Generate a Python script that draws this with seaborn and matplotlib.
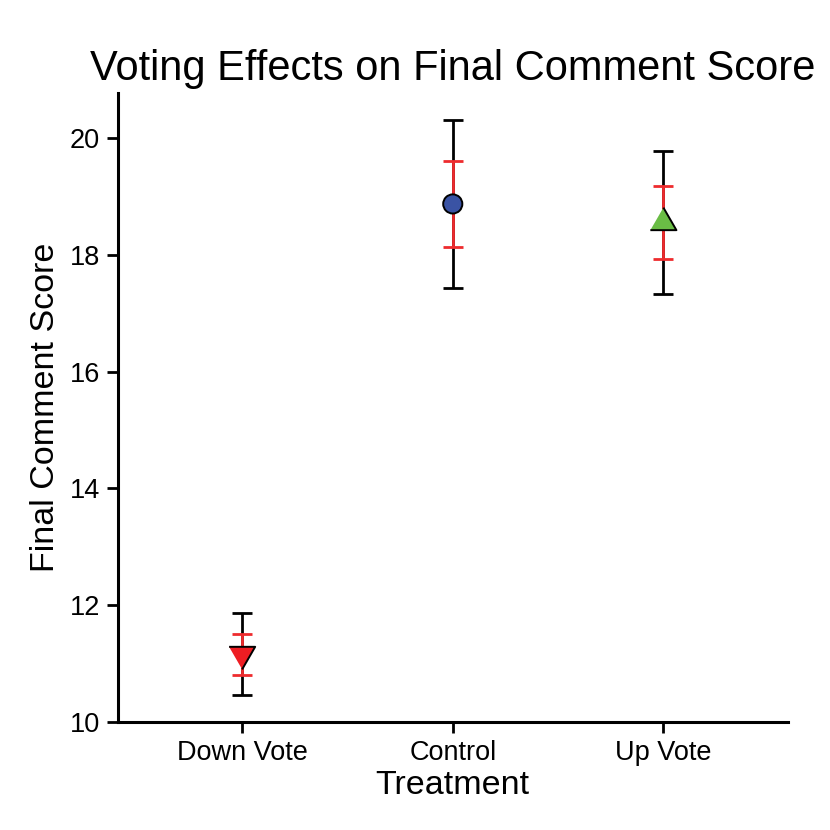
import matplotlib.pyplot as plt
import pandas as pd
import seaborn as sns

treatments = ["Down Vote", "Control", "Up Vote"]
means = [11.16, 18.87, 18.55]
ci_low = [10.46, 17.43, 17.32]
ci_high = [11.86, 20.31, 19.77]
se_low = [10.80, 18.14, 17.92]
se_high = [11.51, 19.61, 19.17]
colors = {"Down Vote": "#EE1D23", "Control": "#3A53A4", "Up Vote": "#6ABD45"}

tri_up = [(-1, -0.577), (1, -0.577), (0, 1.155)]
tri_down = [(-1, 0.577), (1, 0.577), (0, -1.155)]
markers = {"Down Vote": tri_down, "Control": "o", "Up Vote": tri_up}
sizes = {"Down Vote": 470, "Control": 190, "Up Vote": 470}

df = pd.DataFrame({"Treatment": treatments, "Score": means,
                   "ci_low": ci_low, "ci_high": ci_high,
                   "se_low": se_low, "se_high": se_high})

sns.set_style("ticks")
plt.rcParams['font.family'] = ['Liberation Sans', 'DejaVu Sans']
plt.rcParams['text.color'] = 'black'
plt.rcParams['axes.labelcolor'] = 'black'

fig = plt.figure(figsize=(8.3, 8.3), dpi=100)
ax = fig.add_axes([0.142, 0.130, 0.807, 0.758])

ax.errorbar(df["Treatment"], df["Score"],
            yerr=[df["Score"] - df["ci_low"], df["ci_high"] - df["Score"]],
            fmt="none", ecolor="black", elinewidth=2, capsize=7.5, capthick=2, zorder=1)
ax.errorbar(df["Treatment"], df["Score"],
            yerr=[df["Score"] - df["se_low"], df["se_high"] - df["Score"]],
            fmt="none", ecolor="#EE2B2E", elinewidth=2, capsize=7.5, capthick=2, zorder=2)

sns.scatterplot(data=df, x="Treatment", y="Score", hue="Treatment", style="Treatment",
                size="Treatment", palette=colors, markers=markers, sizes=sizes,
                edgecolor="black", linewidth=1.4, legend=False, zorder=3, ax=ax)

ax.set_xlim(-0.59, 2.59)
ax.set_ylim(10, 20.77)
ax.set_yticks([10, 12, 14, 16, 18, 20])
ax.set_title("Voting Effects on Final Comment Score", fontsize=30, pad=9, color="black")
ax.set_xlabel("Treatment", fontsize=24.5, labelpad=3)
ax.set_ylabel("Final Comment Score", fontsize=24.5, labelpad=6)
ax.tick_params(axis="both", labelsize=19.5, colors="black", width=2, length=8, pad=5)
for side in ["top", "right"]:
    ax.spines[side].set_visible(False)
for side in ["left", "bottom"]:
    ax.spines[side].set_linewidth(2.2)
    ax.spines[side].set_color("black")

fig.savefig("out.png", dpi=100)
